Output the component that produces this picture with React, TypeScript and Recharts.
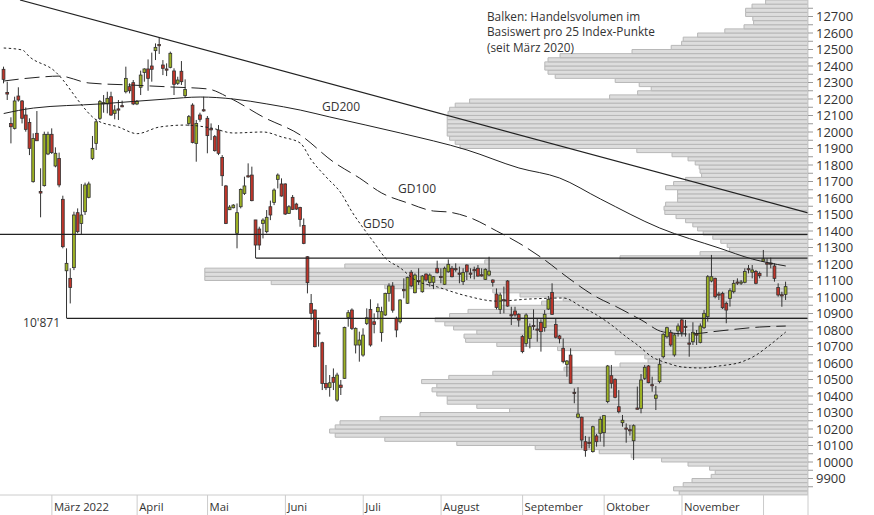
import React from 'react';
import { ComposedChart, XAxis, YAxis, Bar, Line, ReferenceLine, Customized } from 'recharts';

// Daily candles (SMI, Feb 10 2022 .. Dec 2022), index = trading day
const opens = [12380,12240,12052,12022,12218,12188,12103,12058,11699,11992,11640,11675,11867,11986,11794,11840,11592,11159,11113,11178,11511,11446,11517,11604,11840,11931,12083,12170,12170,12214,12113,12140,12160,12244,12275,12299,12170,12271,12361,12382,12400,12493,12530,12406,12382,12392,12370,12295,12368,12220,12052,12163,11931,12103,12135,12083,12020,11972,12012,11846,11673,11529,11541,11386,11547,11628,11735,11739,11467,11412,11446,11396,11547,11573,11713,11685,11685,11507,11604,11563,11543,11434,11244,10961,10921,10784,10723,10476,10452,10513,10375,10466,10507,10876,10921,10709,10709,10648,10840,10925,10850,10911,10784,10891,11022,11067,10871,10850,11045,10962,11150,11026,11100,11032,11139,11087,11089,11174,11125,11077,11153,11174,11172,11145,11093,11194,11145,11166,11174,11135,11107,11133,11103,11018,10925,10984,11097,10893,10915,10895,10760,10719,10749,10828,10806,10846,10814,10927,11028,10834,10764,10689,10592,10648,10422,10271,10271,10123,10119,10063,10158,10174,10178,10366,10523,10501,10335,10238,10206,10196,10129,10327,10325,10507,10582,10469,10386,10487,10638,10759,10786,10649,10794,10861,10822,10721,10729,10776,10725,10814,10881,11097,11113,11018,11022,10962,10992,11032,11091,11087,11089,11172,11150,11154,11143,11218,11206,11206,11188,11057,11014,11016];
const highs = [12396,12305,12089,12214,12271,12194,12149,12083,11992,12127,11780,12002,12002,12022,11907,11875,11614,11295,11174,11517,11537,11685,11693,11699,11976,12077,12194,12224,12244,12244,12163,12194,12190,12396,12295,12315,12194,12372,12386,12440,12481,12537,12574,12436,12416,12487,12386,12335,12430,12319,12103,12174,12073,12117,12214,12097,12052,11982,12042,11860,11679,11557,11563,11567,11658,11729,11810,11790,11467,11426,11477,11527,11584,11658,11749,11719,11689,11557,11618,11571,11547,11476,11248,11018,10925,10860,10729,10588,10527,10567,10541,10497,10820,10921,10931,10816,10790,10810,10931,10986,10901,10961,10941,11026,11083,11090,10881,10986,11113,11123,11163,11143,11174,11133,11143,11143,11127,11220,11174,11184,11228,11188,11204,11184,11174,11198,11174,11184,11194,11174,11174,11244,11107,11052,11026,11063,11103,10941,10941,10901,10770,10901,10840,10925,10871,10865,10921,11006,11083,10871,10770,10749,10618,10689,10446,10453,10275,10158,10153,10220,10170,10275,10285,10588,10588,10507,10436,10285,10234,10224,10228,10457,10533,10588,10588,10517,10461,10628,10780,10820,10800,10780,10840,10867,10861,10780,10847,10800,10840,10921,11133,11255,11117,11032,11032,10972,11053,11103,11113,11103,11174,11194,11194,11164,11154,11285,11234,11238,11204,11083,11032,11093];
const lows = [12295,12194,11931,12015,12184,12052,12002,11860,11693,11945,11483,11669,11860,11867,11786,11665,11295,10871,10961,11163,11386,11382,11497,11598,11830,11891,12073,12117,12113,12097,12077,12073,12150,12234,12234,12163,12163,12224,12305,12250,12305,12436,12473,12345,12339,12386,12224,12285,12285,12208,12036,11931,11820,12062,12123,11871,11951,11881,11860,11673,11442,11527,11537,11295,11537,11618,11723,11580,11236,11285,11355,11386,11466,11557,11658,11608,11497,11503,11527,11527,11426,11320,11022,10860,10695,10699,10436,10436,10396,10436,10365,10406,10505,10820,10800,10658,10608,10638,10830,10699,10780,10864,10729,10885,10972,10905,10756,10840,10992,10958,11059,11022,11073,11026,11093,11063,11048,11143,11083,11073,11147,11119,11153,11083,11073,11103,11113,11107,11123,11123,11103,11127,11063,10925,10897,10901,10941,10830,10881,10820,10659,10699,10689,10800,10729,10669,10790,10921,10891,10749,10719,10598,10517,10473,10356,10265,10083,10032,10083,10057,10093,10123,10093,10356,10446,10386,10295,10214,10117,10160,10012,10319,10295,10497,10477,10426,10315,10477,10628,10749,10699,10638,10760,10760,10760,10638,10709,10709,10719,10806,10851,11089,10992,10982,10927,10841,10942,11022,11073,11073,11083,11143,11113,11077,11113,11214,11123,11174,11093,11002,10941,10982];
const closes = [12319,12230,12032,12188,12194,12083,12016,11901,11961,11947,11630,11986,11986,11875,11871,11679,11305,11204,11058,11497,11396,11497,11679,11685,11901,12062,12184,12178,12204,12103,12133,12134,12155,12325,12250,12170,12186,12345,12382,12325,12380,12513,12524,12386,12378,12477,12289,12315,12305,12258,12093,11937,12052,12077,12131,11978,12016,11887,11871,11735,11446,11545,11557,11511,11652,11673,11731,11584,11315,11315,11466,11483,11497,11648,11739,11612,11503,11547,11531,11533,11470,11325,11087,10901,10699,10776,10476,10450,10480,10483,10527,10452,10816,10905,10810,10810,10739,10769,10874,10709,10834,10937,10911,11022,11067,10920,10800,10982,11040,11119,11067,11133,11095,11127,11103,11133,11123,11147,11121,11174,11198,11123,11168,11141,11149,11153,11141,11162,11127,11131,11168,11157,11089,10937,11012,10980,10945,10889,10891,10860,10669,10891,10820,10824,10802,10790,10895,10986,10895,10756,10747,10608,10612,10477,10418,10291,10133,10069,10115,10214,10123,10259,10281,10582,10477,10392,10305,10253,10202,10192,10220,10323,10497,10574,10481,10465,10406,10592,10774,10814,10709,10770,10824,10786,10818,10717,10786,10772,10824,10901,11123,11123,11002,11014,10935,10921,11038,11083,11087,11091,11154,11168,11164,11083,11129,11230,11202,11202,11113,11012,11010,11063];

// Moving averages: [day index, value]
const gd50: [number, number][] = [[0,12509],[5,12497],[7,12455],[14,12364],[16,12315],[18,12255],[20,12194],[25,12073],[31,12030],[36,11990],[42,12030],[49,12042],[56,12024],[62,11994],[70,12000],[75,11970],[80,11933],[83,11830],[87,11727],[91,11630],[94,11515],[97,11418],[100,11327],[103,11236],[107,11176],[111,11103],[117,11061],[125,11006],[133,10975],[142,10988],[151,10994],[156,10939],[160,10891],[164,10830],[168,10758],[171,10709],[175,10636],[179,10600],[183,10576],[188,10570],[193,10582],[199,10606],[203,10648],[206,10697],[211,10788]];
const gd100: [number, number][] = [[0,12309],[10,12333],[15,12339],[23,12297],[34,12285],[45,12273],[55,12261],[61,12206],[70,12091],[80,11982],[89,11818],[96,11721],[102,11630],[109,11570],[116,11521],[120,11515],[126,11479],[133,11400],[139,11327],[146,11224],[152,11121],[159,11012],[166,10933],[172,10861],[178,10788],[185,10776],[193,10794],[204,10818],[211,10824]];
const gd200: [number, number][] = [[0,12112],[8,12145],[26,12170],[44,12200],[53,12212],[62,12200],[71,12170],[80,12133],[88,12091],[107,11994],[125,11891],[139,11782],[150,11721],[161,11594],[177,11418],[193,11297],[202,11230],[211,11188]];

// Volume profile: 25-point bins starting at 9800 (relative traded volume)
const profileStart = 9800;
const profileStep = 25;
const profileVolume = [161,168,156,145,121,116,123,150,183,221,261,341,439,529,591,598,591,585,535,485,373,414,451,451,464,470,464,483,449,
  394,305,235,200,204,241,313,389,428,430,414,443,454,466,448,425,385,333,306,360,394,529,671,754,754,754,579,404,
  235,135,98,101,109,119,131,138,144,153,165,179,180,178,163,163,163,178,168,153,133,135,136,141,150,170,214,435,441,448,451,451,451,451,451,450,448,441,423,248,213,196,211,241,316,325,329,329,325,310,220,171,158,156,138,104,80,68,69,78,78,70,53];

const monthTicks = [13, 36, 55, 76, 97, 118, 140, 162, 183, 205, 217];
const monthLabels = ['März 2022', 'April', 'Mai', 'Juni', 'Juli', 'August', 'September', 'Oktober', 'November', '', ''];
const yLabels = [9900,10000,10100,10200,10300,10400,10500,10600,10700,10800,10900,11000,11100,11200,11300,11400,11500,11600,11700,11800,11900,12000,12100,12200,12300,12400,12500,12600,12700];

const lowMark = { day: 17, value: 10871, label: "10'871" };
const supportMay = { day: 68, value: 11236 };
const resistance = 11380;
const trend = [{ day: 4.4, value: 12800 }, { day: 217, value: 11510 }];

const GREEN = '#9db224';
const RED = '#c0352a';
const INK = '#333333';

const rows = opens.map((o, i) => ({ i, o, h: highs[i], l: lows[i], c: closes[i], range: [lows[i], highs[i]] }));
const toRows = (a: [number, number][]) => a.map(([i, v]) => ({ i, v }));
const gd50Rows = toRows(gd50);
const gd100Rows = toRows(gd100);
const gd200Rows = toRows(gd200);
const profileRows = profileVolume.map((vol, k) => ({ p: profileStart + k * profileStep + profileStep / 2, vol }));

const yTicks: number[] = [];
yLabels.forEach((v) => { yTicks.push(v - 50, v); });
yTicks.push(12750);

const Candle = (props: any) => {
  const { x, y, width, height } = props;
  const p = props.payload ?? props;
  if (x == null || y == null || !p) return null;
  const { o, h, l, c } = p;
  const top = Math.min(y, y + height);
  const bot = Math.max(y, y + height);
  const span = h - l || 1;
  const py = (v: number) => top + ((h - v) / span) * (bot - top);
  const cx = x + width / 2;
  const bTop = py(Math.max(o, c));
  const bBot = py(Math.min(o, c));
  return (
    <g>
      <line x1={cx} x2={cx} y1={top} y2={bot} stroke={INK} strokeWidth={1} />
      <rect x={cx - 1.4} y={bTop} width={2.8} height={Math.max(1.2, bBot - bTop)} fill={c >= o ? GREEN : RED} stroke={INK} strokeWidth={0.8} />
    </g>
  );
};

const XTick = (props: any) => {
  const { x, y, payload } = props;
  const label = monthLabels[monthTicks.indexOf(payload.value)] ?? '';
  return (
    <g>
      <line x1={x} x2={x} y1={y} y2={y + 20} stroke="#cccccc" strokeWidth={1} />
      {label ? <text x={x + 2} y={y + 16} fontSize={11.3} fill={INK} textAnchor="start">{label}</text> : null}
    </g>
  );
};

const YTick = (props: any) => {
  const { x, y, payload } = props;
  const v = payload.value;
  const show = yLabels.includes(v);
  return (
    <g>
      <line x1={x} x2={x + 5} y1={y} y2={y} stroke="#999999" strokeWidth={1} />
      {show ? <text x={x + 8} y={y} dy={4.5} fontSize={13} fill={INK} textAnchor="start">{v}</text> : null}
    </g>
  );
};

const Notes = () => (
  <g fontFamily='"Open Sans", sans-serif' fill={INK}>
    <text x={487} y={20.5} fontSize={11.8}>Balken: Handelsvolumen im</text>
    <text x={487} y={36} fontSize={11.8}>Basiswert pro 25 Index-Punkte</text>
    <text x={487} y={51.5} fontSize={11.8}>(seit März 2020)</text>
    <text x={322} y={111} fontSize={12}>GD200</text>
    <text x={398} y={193} fontSize={12}>GD100</text>
    <text x={363} y={228} fontSize={12}>GD50</text>
    <text x={60} y={327} fontSize={12} textAnchor="end">{lowMark.label}</text>
  </g>
);

export default function App() {
  return (
    <div style={{ position: 'absolute', left: 0, top: 0, width: 874, height: 515, background: '#fff', fontFamily: '"Open Sans", sans-serif' }}>
      <div style={{ position: 'absolute', left: 0, top: 0 }}>
        <ComposedChart layout="vertical" width={874} height={515} data={profileRows} margin={{ top: 0, right: 66, bottom: 20, left: 0 }}>
          <XAxis type="number" domain={[0, 1010]} reversed hide allowDataOverflow />
          <YAxis type="number" dataKey="p" domain={[9800, 12800]} reversed hide allowDataOverflow />
          <Bar dataKey="vol" barSize={4.1} fill="#dddddd" stroke="#b8b8b8" strokeWidth={1} isAnimationActive={false} />
        </ComposedChart>
      </div>
      <div style={{ position: 'absolute', left: 0, top: 0 }}>
        <ComposedChart width={874} height={515} data={rows} margin={{ top: 0, right: 0, bottom: 0, left: 0 }}>
          <XAxis dataKey="i" type="number" domain={[-1, 217]} allowDataOverflow ticks={monthTicks} interval={0}
            tick={<XTick />} tickSize={0} tickMargin={0} axisLine={{ stroke: '#cccccc' }} height={20} />
          <YAxis orientation="right" type="number" domain={[9800, 12800]} allowDataOverflow ticks={yTicks} interval={0}
            tick={<YTick />} tickSize={0} tickMargin={0} axisLine={{ stroke: '#cccccc' }} width={66} />
          <ReferenceLine y={resistance} stroke="#222" strokeWidth={1.3} />
          <ReferenceLine segment={[{ x: supportMay.day, y: supportMay.value }, { x: 217, y: supportMay.value }]} stroke="#222" strokeWidth={1.3} />
          <ReferenceLine segment={[{ x: lowMark.day, y: lowMark.value }, { x: 217, y: lowMark.value }]} stroke="#222" strokeWidth={1.3} />
          <ReferenceLine segment={[{ x: trend[0].day, y: trend[0].value }, { x: trend[1].day, y: trend[1].value }]} stroke="#222" strokeWidth={1.2} ifOverflow="visible" />
          <Bar dataKey="range" barSize={4} shape={<Candle />} isAnimationActive={false} />
          <Line data={gd200Rows} dataKey="v" type="monotone" stroke="#222" strokeWidth={1} dot={false} activeDot={false} isAnimationActive={false} />
          <Line data={gd100Rows} dataKey="v" type="monotone" stroke="#222" strokeWidth={1} strokeDasharray="15 6" dot={false} activeDot={false} isAnimationActive={false} />
          <Line data={gd50Rows} dataKey="v" type="monotone" stroke="#222" strokeWidth={1} strokeDasharray="2.5 2.5" dot={false} activeDot={false} isAnimationActive={false} />
          <Customized component={Notes} />
        </ComposedChart>
      </div>
    </div>
  );
}
